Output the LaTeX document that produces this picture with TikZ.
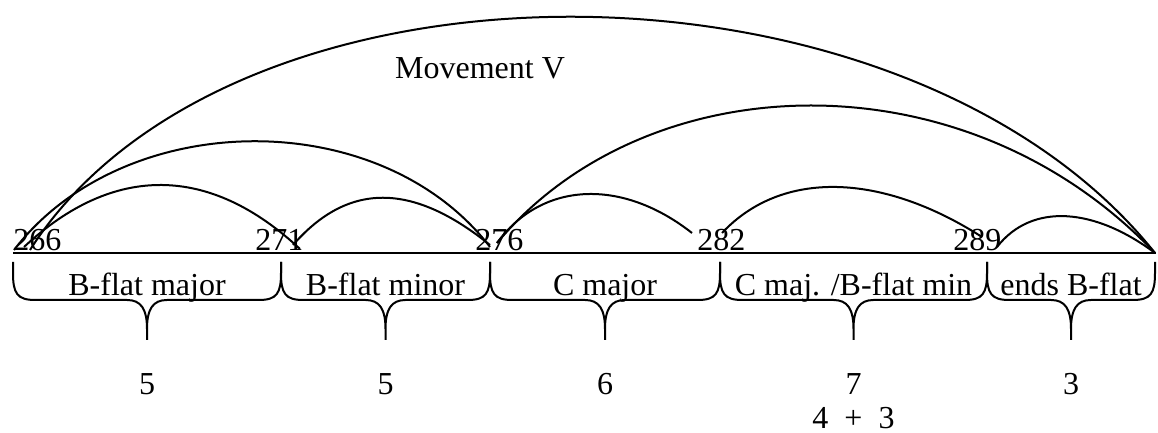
\documentclass[tikz,border=0pt]{standalone}
\usepackage{fontspec}
\setmainfont{Liberation Serif}
\usetikzlibrary{positioning}

\tikzset{
  bar/.style={inner sep=0pt, anchor=base west},
  seg/.style={line width=1pt},
  span/.style={line width=1pt},
  num/.style={inner sep=0pt},
}

\begin{document}
\begin{tikzpicture}[x=0.5pt, y=0.5pt, font=\fontsize{16}{19}\selectfont]

    \useasboundingbox (0,0) rectangle (1158,433);

    % Define nodes

    \node[bar] (b266) at (13,182) {266}; %
    \node[bar] (b271) at (255,182) {271}; %
    \node[bar] (b276) at (475,182) {276}; %
    \node[bar] (b282) at (697,182) {282}; %
    \node[bar] (b289) at (953,182) {289}; %
    \node (title) at (480,365) {Movement V}; %

    % bar line
    \coordinate (l0) at (13,180);
    \coordinate (l1) at (1156,180);
    \draw[seg] (l0) -- (l1);

    % braces, keys and bar counts
    \foreach \a/\b/\nm/\txt/\len in {13/281/bmaj/{B-flat major}/5,
        281/490/bmin/{B-flat minor}/5, 490/720/cmaj/{C major}/6,
        720/987/cmix/{C maj. /B-flat min}/7, 987/1155/bend/{ends B-flat}/3} {
      \pgfmathsetmacro{\m}{(\a+\b)/2}
      \draw[seg] (\a,171) -- (\a,160) .. controls (\a,140) and (\a+4,133) .. (\a+22,133)
        -- (\m-20,133) .. controls (\m-6,133) and (\m,124) .. (\m,104) -- (\m,93)
        -- (\m,104) .. controls (\m,124) and (\m+6,133) .. (\m+20,133)
        -- (\b-22,133) .. controls (\b-4,133) and (\b,140) .. (\b,160) -- (\b,171);
      \node[anchor=base] (\nm) at (\m,137) {\txt}; %
      \node[num] (\nm-n) at (\m,49) {\len}; %
    }
    \node[num, below=6pt of cmix-n] (split) {4 \ + \ 3}; %

    % arc feet
    \coordinate (f266a) at (14,183);
    \coordinate (f266b) at (30,183);
    \coordinate (f266c) at (24,186);
    \coordinate (f271a) at (300,184);
    \coordinate (f271b) at (293,188);
    \coordinate (f276a) at (490,186);
    \coordinate (f276b) at (490,188);
    \coordinate (f276c) at (497,190);
    \coordinate (f282a) at (692,200);
    \coordinate (f282b) at (722,200);
    \coordinate (f289a) at (982,196);
    \coordinate (f289b) at (997,186);
    \coordinate (fend) at (1155,180);

    % Connect the spans
    \draw[span] (f266b) .. controls +(200,313) and +(-250,313) .. (fend);
    \draw[span] (f266c) .. controls +(90,84) and +(-90,84) .. (f271a);
    \draw[span] (f266a) .. controls +(110,143) and +(-110,143) .. (f276a);
    \draw[span] (f271b) .. controls +(55,63) and +(-78,63) .. (f276b);
    \draw[span] (f276c) .. controls +(150,180) and +(-190,200) .. (fend);
    \draw[span] (f276c) .. controls +(45,62) and +(-70,55) .. (f282a);
    \draw[span] (f282b) .. controls +(60,64) and +(-100,64) .. (f289a);
    \draw[span] (f289b) .. controls +(35,45) and +(-60,45) .. (fend);

\end{tikzpicture}
\end{document}
